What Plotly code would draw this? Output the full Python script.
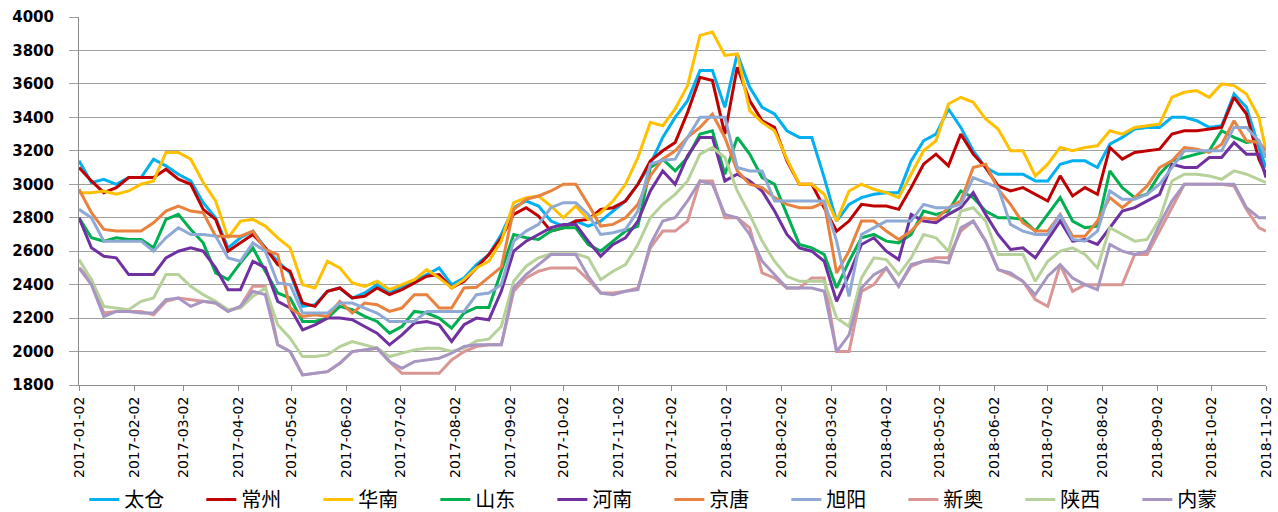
import pandas as pd
import plotly.graph_objects as go

# weekly sample dates (Mondays from 2017-01-02) plus final date
dates = list(pd.date_range("2017-01-02", periods=96, freq="7D")) + [pd.Timestamp("2018-11-02")]

tick_labels = ["2017-01-02", "2017-02-02", "2017-03-02", "2017-04-02", "2017-05-02", "2017-06-02",
               "2017-07-02", "2017-08-02", "2017-09-02", "2017-10-02", "2017-11-02", "2017-12-02",
               "2018-01-02", "2018-02-02", "2018-03-02", "2018-04-02", "2018-05-02", "2018-06-02",
               "2018-07-02", "2018-08-02", "2018-09-02", "2018-10-02", "2018-11-02"]

taicang = [
    3140, 3010, 3030, 3000, 3040, 3040, 3150, 3110, 3060, 3020,
    2890, 2800, 2620, 2680, 2720, 2620, 2540, 2470, 2270, 2280,
    2360, 2380, 2320, 2350, 2400, 2350, 2390, 2420, 2460, 2500,
    2400, 2440, 2520, 2580, 2700, 2860, 2900, 2870, 2780, 2750,
    2780, 2750, 2780, 2840, 2900, 3000, 3120, 3280, 3400, 3500,
    3680, 3680, 3460, 3780, 3580, 3460, 3420, 3320, 3280, 3280,
    3040, 2780, 2880, 2920, 2940, 2950, 2950, 3140, 3260, 3300,
    3450, 3340, 3200, 3100, 3060, 3060, 3060, 3020, 3020, 3120,
    3140, 3140, 3100, 3240, 3280, 3330, 3340, 3340, 3400, 3400,
    3380, 3340, 3350, 3540, 3460, 3220, 3100]

changzhou = [
    3100, 3020, 2950, 2980, 3040, 3040, 3040, 3090, 3030, 3000,
    2850, 2790, 2600, 2650, 2700, 2620, 2520, 2480, 2290, 2270,
    2360, 2380, 2320, 2330, 2380, 2340, 2370, 2410, 2450, 2460,
    2380, 2420, 2500, 2580, 2680, 2820, 2860, 2810, 2720, 2740,
    2780, 2790, 2850, 2860, 2900, 3000, 3140, 3200, 3250, 3430,
    3640, 3620, 3300, 3700, 3500, 3380, 3340, 3140, 3000, 3000,
    2860, 2720, 2780, 2880, 2870, 2870, 2850, 2980, 3120, 3180,
    3110, 3300, 3180, 3100, 2990, 2960, 2980, 2940, 2900, 3050,
    2930, 2980, 2940, 3220, 3150, 3190, 3200, 3210, 3300, 3320,
    3320, 3330, 3340, 3520, 3420, 3150, 3060]

huanan = [
    2950, 2950, 2960, 2940, 2960, 3000, 3020, 3190, 3190, 3150,
    3010, 2900, 2680, 2780, 2790, 2750, 2680, 2620, 2400, 2380,
    2540, 2500, 2410, 2390, 2420, 2370, 2400, 2430, 2490, 2440,
    2380, 2430, 2500, 2540, 2660, 2890, 2920, 2930, 2870, 2800,
    2870, 2790, 2830, 2900, 3000, 3160, 3370, 3350, 3450, 3590,
    3890, 3910, 3770, 3780, 3440, 3370, 3320, 3150, 3000, 3000,
    2940, 2780, 2960, 3000, 2970, 2950, 2920, 3060, 3200, 3260,
    3480, 3520, 3490, 3390, 3330, 3200, 3200, 3050, 3120, 3220,
    3200, 3220, 3230, 3320, 3300, 3340, 3350, 3360, 3520, 3550,
    3560, 3520, 3600, 3590, 3540, 3400, 3200]

shandong = [
    2800, 2680, 2660, 2680, 2670, 2670, 2620, 2790, 2820, 2730,
    2650, 2470, 2430, 2530, 2620, 2480, 2350, 2320, 2180, 2180,
    2200, 2270, 2250, 2210, 2180, 2110, 2150, 2240, 2230, 2200,
    2140, 2230, 2264, 2264, 2480, 2700, 2680, 2670, 2720, 2740,
    2740, 2640, 2600, 2660, 2720, 2750, 3100, 3150, 3080, 3160,
    3300, 3320, 3060, 3280, 3180, 3040, 3000, 2820, 2640, 2620,
    2580, 2380, 2540, 2680, 2700, 2660, 2650, 2700, 2840, 2820,
    2840, 2960, 2920, 2840, 2800, 2800, 2790, 2720, 2820, 2920,
    2780, 2740, 2750, 3080, 2980, 2920, 2940, 3060, 3140, 3160,
    3180, 3200, 3320, 3280, 3250, 3260, 3160]

henan = [
    2800, 2620, 2570, 2560, 2460, 2460, 2460, 2560, 2600, 2620,
    2600, 2500, 2370, 2370, 2540, 2500, 2300, 2260, 2130, 2160,
    2200, 2200, 2190, 2150, 2110, 2040, 2100, 2170, 2180, 2160,
    2060, 2160, 2200, 2190, 2360, 2600, 2660, 2700, 2740, 2760,
    2760, 2660, 2570, 2640, 2680, 2780, 2960, 3080, 3000, 3170,
    3280, 3280, 3020, 3060, 3020, 2960, 2840, 2700, 2620, 2600,
    2540, 2300, 2460, 2640, 2680, 2600, 2550, 2820, 2780, 2770,
    2820, 2860, 2950, 2820, 2700, 2610, 2620, 2560, 2670, 2780,
    2660, 2670, 2640, 2740, 2840, 2860, 2900, 2940, 3120, 3100,
    3100, 3160, 3160, 3250, 3180, 3180, 3040]

jingtang = [
    2970, 2830, 2730, 2720, 2720, 2720, 2770, 2840, 2870, 2840,
    2830, 2690, 2690, 2690, 2720, 2610, 2580, 2260, 2210, 2220,
    2210, 2300, 2230, 2290, 2280, 2240, 2260, 2340, 2340, 2260,
    2260, 2380, 2384, 2444, 2504, 2850, 2910, 2930, 2960, 3000,
    3000, 2880, 2750, 2760, 2800, 2880, 3050, 3150, 3200, 3280,
    3340, 3420, 3280, 3080, 3000, 2980, 2920, 2880, 2860, 2860,
    2890, 2470, 2600, 2780, 2780, 2720, 2670, 2720, 2800, 2790,
    2860, 2900, 3100, 3120, 2970, 2880, 2770, 2720, 2720, 2820,
    2690, 2690, 2780, 2920, 2860, 2920, 2990, 3100, 3140, 3220,
    3210, 3190, 3240, 3380, 3260, 3250, 3200]

xuyang = [
    2850, 2800, 2660, 2660, 2660, 2660, 2600, 2680, 2740, 2700,
    2700, 2690, 2560, 2540, 2650, 2600, 2410, 2400, 2230, 2230,
    2230, 2290, 2290, 2260, 2230, 2180, 2180, 2180, 2240, 2240,
    2240, 2240, 2340, 2350, 2400, 2660, 2720, 2760, 2860, 2890,
    2890, 2820, 2700, 2710, 2730, 2840, 3120, 3144, 3150, 3280,
    3400, 3400, 3400, 3100, 3080, 3080, 2900, 2900, 2900, 2900,
    2900, 2660, 2330, 2700, 2740, 2780, 2780, 2780, 2880, 2860,
    2860, 2880, 3040, 3010, 2980, 2760, 2720, 2700, 2700, 2820,
    2670, 2660, 2720, 2960, 2910, 2910, 2940, 3000, 3100, 3200,
    3200, 3200, 3200, 3340, 3340, 3260, 3160]

xinao = [
    2500, 2430, 2230, 2240, 2240, 2240, 2220, 2300, 2320, 2310,
    2300, 2290, 2240, 2270, 2390, 2390, 2040, 2000, 1860, 1870,
    1880, 1930, 2000, 2010, 2020, 1940, 1870, 1870, 1870, 1870,
    1950, 2000, 2030, 2040, 2040, 2360, 2440, 2480, 2500, 2500,
    2500, 2430, 2350, 2350, 2360, 2380, 2620, 2720, 2720, 2780,
    3020, 3020, 2800, 2800, 2740, 2470, 2440, 2380, 2380, 2440,
    2440, 2000, 2000, 2360, 2400, 2500, 2390, 2510, 2540, 2560,
    2560, 2720, 2780, 2660, 2490, 2460, 2420, 2310, 2270, 2520,
    2360, 2400, 2400, 2400, 2400, 2580, 2580, 2720, 2860, 3000,
    3000, 3000, 3000, 2990, 2850, 2740, 2720]

shaanxi = [
    2550, 2430, 2270, 2260, 2250, 2300, 2320, 2460, 2460, 2390,
    2340, 2300, 2250, 2260, 2330, 2380, 2160, 2080, 1970, 1970,
    1980, 2030, 2060, 2040, 2020, 1970, 1990, 2010, 2020, 2020,
    2000, 2020, 2064, 2074, 2150, 2420, 2510, 2560, 2584, 2584,
    2584, 2560, 2430, 2480, 2520, 2640, 2800, 2880, 2940, 3020,
    3180, 3220, 3160, 2960, 2820, 2660, 2540, 2450, 2420, 2420,
    2420, 2200, 2150, 2440, 2560, 2550, 2460, 2560, 2700, 2680,
    2600, 2840, 2860, 2780, 2580, 2580, 2580, 2420, 2540, 2600,
    2620, 2580, 2500, 2740, 2700, 2660, 2670, 2790, 3020, 3060,
    3060, 3050, 3030, 3080, 3060, 3030, 3010]

neimeng = [
    2500, 2400, 2210, 2240, 2240, 2230, 2230, 2310, 2320, 2270,
    2300, 2290, 2240, 2270, 2360, 2340, 2040, 2000, 1860, 1870,
    1880, 1930, 2000, 2010, 2020, 1940, 1900, 1940, 1950, 1960,
    1990, 2030, 2040, 2040, 2040, 2380, 2460, 2520, 2580, 2580,
    2580, 2450, 2350, 2340, 2360, 2370, 2640, 2780, 2800, 2900,
    3020, 3000, 2820, 2800, 2700, 2540, 2460, 2380, 2380, 2380,
    2360, 2000, 2100, 2380, 2460, 2500, 2390, 2520, 2540, 2540,
    2530, 2740, 2780, 2660, 2490, 2470, 2420, 2340, 2450, 2520,
    2440, 2400, 2370, 2640, 2600, 2580, 2600, 2760, 2900, 3000,
    3000, 3000, 3000, 3000, 2860, 2800, 2800]

series_names = ["太仓", "常州", "华南", "山东", "河南", "京唐", "旭阳", "新奥", "陕西", "内蒙"]
series_values = [taicang, changzhou, huanan, shandong, henan, jingtang, xuyang, xinao, shaanxi, neimeng]
series_colors = ["#00B0F0", "#C00000", "#FFC000", "#00B050", "#7030A0",
                 "#E8823E", "#8EA9D6", "#D99694", "#B6D29A", "#A796C2"]

fig = go.Figure()
for name, vals, col in zip(series_names, series_values, series_colors):
    fig.add_trace(go.Scatter(x=dates, y=vals, name=name, mode="lines",
                             line=dict(color=col, width=3), hoverinfo="x+y+name"))

fig.update_layout(
    width=1278, height=512,
    margin=dict(l=79, r=12, t=17, b=127),
    paper_bgcolor="white", plot_bgcolor="white",
    showlegend=True,
    legend=dict(orientation="h", xref="container", yref="container",
                x=0.066, y=0.0625, xanchor="left", yanchor="top",
                font=dict(family="Noto Sans CJK SC", size=20, color="#000000"),
                entrywidth=72, entrywidthmode="pixels",
                bgcolor="rgba(0,0,0,0)"),
    font=dict(family="DejaVu Sans", color="#000000"),
)

fig.update_xaxes(
    type="date", range=["2017-01-02", "2018-11-02"],
    tickvals=tick_labels, ticktext=tick_labels, tickangle=-90,
    showgrid=False, showline=True, linecolor="#8C8C8C", linewidth=1,
    ticks="outside", ticklen=5, tickcolor="#8C8C8C",
    tickfont=dict(family="DejaVu Sans", size=14, color="#000000"),
    zeroline=False, automargin=False,
)
fig.update_yaxes(
    range=[1800, 4000], dtick=200, tick0=1800,
    showgrid=True, gridcolor="#A0A0A0", gridwidth=1,
    showline=True, linecolor="#8C8C8C", linewidth=1,
    ticks="outside", ticklen=9, tickcolor="#A0A0A0",
    ticklabelstandoff=12,
    tickfont=dict(family="DejaVu Sans", size=15, color="#000000", weight="bold"),
    zeroline=False, automargin=False,
)

fig.write_html("out.html",
               config={"displayModeBar": False},
               post_script="document.body.style.margin='0';document.body.style.overflow='hidden';")
